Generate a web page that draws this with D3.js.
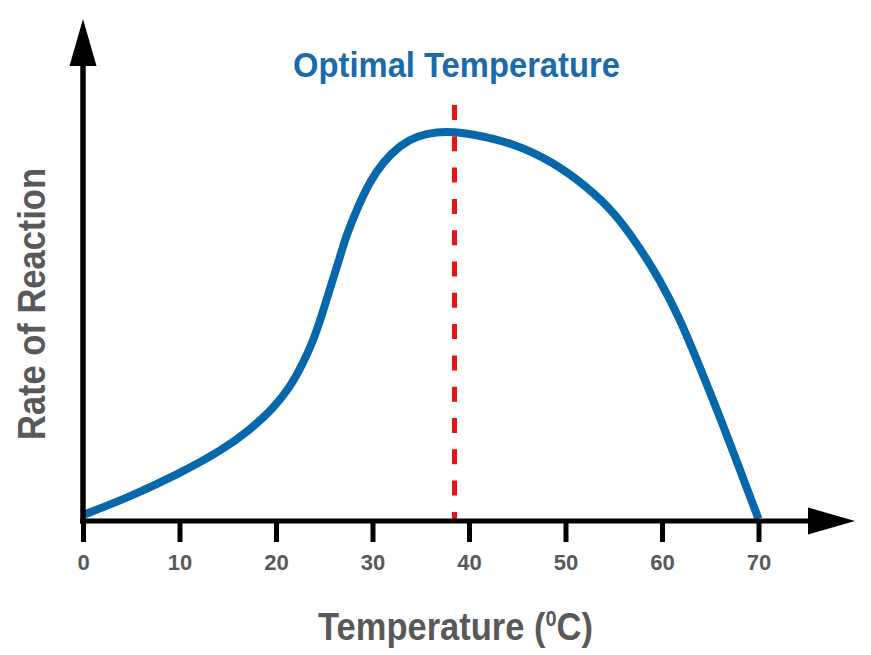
<!DOCTYPE html>
<html><head><meta charset="utf-8">
<script src="https://cdn.jsdelivr.net/npm/d3@7"></script>
<style>
html,body{margin:0;padding:0;background:#fff;}
svg{display:block;}
</style></head>
<body>
<script>
// Data
const temps = [0, 4.9, 9.7, 14.5, 17.3, 19.7, 21.5, 22.8, 23.9, 24.7, 25.4, 26.5, 27.3, 28.4, 29.7, 31.1, 32.9, 34.6, 36.7, 38.4, 40.8, 44.5, 48.7, 52.2, 55.0, 57.4, 59.8, 61.9, 63.9, 66.4, 70];
const rates = [1.5, 6.1, 11.5, 17.8, 22.8, 28.1, 33.6, 39.4, 45.3, 51.1, 56.6, 65.0, 71.5, 78.1, 84.8, 89.8, 94.0, 96.3, 97.3, 97.3, 96.5, 94.5, 89.8, 83.6, 77.3, 69.4, 60.3, 50.3, 38.6, 23.6, 0.5];
const xTicks = [0, 10, 20, 30, 40, 50, 60, 70];
const optimalTemp = [38.5];
const titleText = "Optimal Temperature";
const xTitle = "Temperature (";
const yTitle = "Rate of Reaction";

const W = 871, H = 655;
const svg = d3.select("body").append("svg").attr("width", W).attr("height", H);

const x = d3.scaleLinear().domain([0, 70]).range([83, 758.5]);
const y = d3.scaleLinear().domain([0, 100]).range([521, 121]);

const font = "'Liberation Sans', Arial, Helvetica, sans-serif";
const gray = "#595959";
const blue = "#0767ab";

// curve
const pts = temps.map((t, i) => [t, rates[i]]);
svg.append("path")
  .datum(pts)
  .attr("fill", "none")
  .attr("stroke", blue)
  .attr("stroke-width", 8)
  .attr("d", d3.line().x(d => x(d[0])).y(d => y(d[1])).curve(d3.curveBasis));

// optimal dashed line
svg.selectAll("line.opt").data(optimalTemp).join("line")
  .attr("class", "opt")
  .attr("x1", d => x(d)).attr("x2", d => x(d))
  .attr("y1", y(104)).attr("y2", y(0.5))
  .attr("stroke", "#ee1111")
  .attr("stroke-width", 5)
  .attr("stroke-dasharray", "15,16.3");

// x axis with ticks
const xAxis = d3.axisBottom(x).tickValues(xTicks).tickSize(21).tickPadding(12).tickFormat(d3.format("d"));
const gx = svg.append("g").attr("transform", `translate(0,${y(0)})`).call(xAxis);
gx.attr("font-size", null).attr("font-family", null);
gx.select(".domain").remove();
gx.selectAll(".tick line").attr("stroke", "#000").attr("stroke-width", 5);
gx.selectAll(".tick text")
  .attr("fill", gray)
  .style("font-family", font)
  .style("font-weight", "bold")
  .style("font-size", "22px");

// axis lines
svg.append("line").attr("x1", 80).attr("x2", 812).attr("y1", y(0)).attr("y2", y(0))
  .attr("stroke", "#000").attr("stroke-width", 5);
svg.append("line").attr("x1", x(0)).attr("x2", x(0)).attr("y1", y(0) + 2.5).attr("y2", 60)
  .attr("stroke", "#000").attr("stroke-width", 5.5);

// arrowheads
svg.append("path").attr("fill", "#000")
  .attr("d", `M${x(0)},19 L${x(0) + 13.5},66 L${x(0) - 13.5},66 Z`);
svg.append("path").attr("fill", "#000")
  .attr("d", `M855,${y(0)} L808,${y(0) - 13.5} L808,${y(0) + 13.5} Z`);

// condensed text helper: fit natural width to target width by horizontal scaling
function fit(sel, target, pre) {
  const w = sel.node().getBBox().width;
  sel.attr("transform", `${pre} scale(${target / w},1)`);
}

// title
const tt = svg.append("text")
  .attr("text-anchor", "middle")
  .attr("fill", "#1a6aac")
  .style("font-family", font)
  .style("font-weight", "bold")
  .style("font-size", "35px")
  .text(titleText);
fit(tt, 327, "translate(456.5,77)");

// x title
const xt = svg.append("text")
  .attr("text-anchor", "middle")
  .attr("fill", gray)
  .style("font-family", font)
  .style("font-weight", "bold")
  .style("font-size", "38px");
xt.append("tspan").text(xTitle);
xt.append("tspan").attr("dy", -14).style("font-size", "22px").text("0");
xt.append("tspan").attr("dy", 14).text("C)");
fit(xt, 275, "translate(455.5,640)");

// y title
const yt = svg.append("text")
  .attr("text-anchor", "middle")
  .attr("fill", gray)
  .style("font-family", font)
  .style("font-weight", "bold")
  .style("font-size", "38px")
  .text(yTitle);
fit(yt, 272, "translate(45,304) rotate(-90)");
</script>
</body></html>
